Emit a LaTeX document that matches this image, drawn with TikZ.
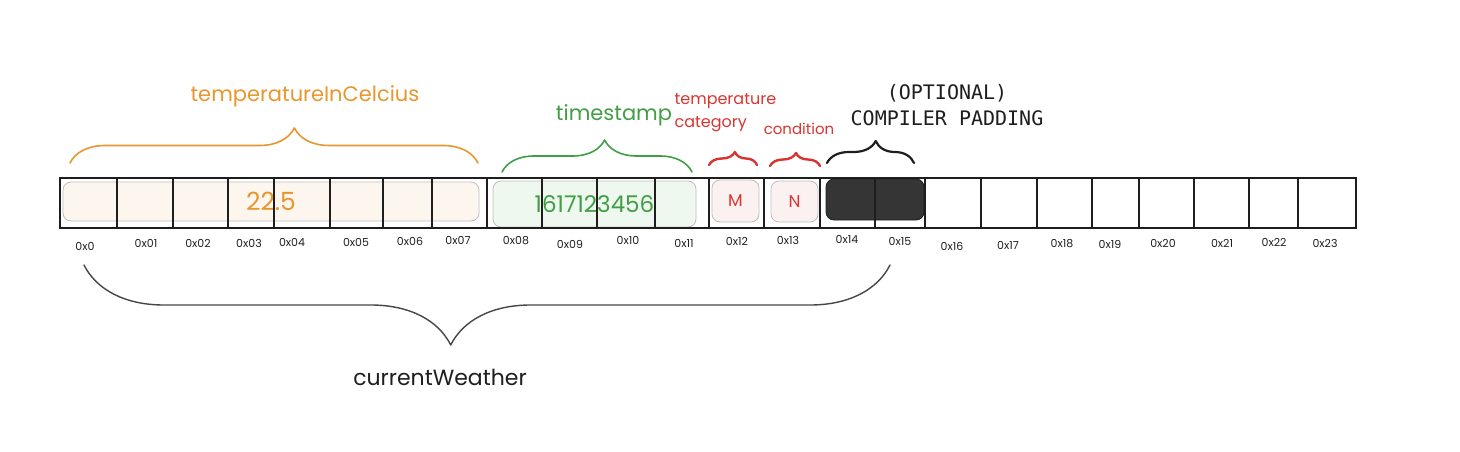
\documentclass[tikz,border=0pt]{standalone}
\usepackage{fontspec}
\setmainfont{Poppins}
\newfontfamily\monofont{DejaVu Sans Mono}
\usepackage{xcolor}
\usepackage{tikz}
\usetikzlibrary{positioning, calc, decorations.pathreplacing}
\definecolor{myorange}{RGB}{232,150,46}
\definecolor{mygreen}{RGB}{64,158,68}
\definecolor{myred}{RGB}{218,52,48}
\definecolor{mydark}{RGB}{30,30,30}
\definecolor{mygray}{RGB}{70,70,70}
\definecolor{bgorange}{RGB}{253,246,238}
\definecolor{bggreen}{RGB}{238,248,238}
\definecolor{bgred}{RGB}{251,241,241}
\definecolor{edgegray}{RGB}{190,190,190}
\tikzset{
  cell/.style={rectangle, draw=mydark, inner sep=0pt, minimum height=50pt,
    line width=1.2pt},
  field/.style={rectangle, draw=edgegray, rounded corners=8pt, inner sep=0pt,
    line width=0.8pt},
  addr/.style={font=\fontsize{11}{13}\selectfont, text=mydark},
  lbl/.style={font=\fontsize{21}{25}\selectfont},
  smalllbl/.style={font=\fontsize{16}{23}\selectfont, text=myred},
  bracket/.style={decorate, line width=1.6pt, line cap=round, line join=round},
}

\begin{document}
\begin{tikzpicture}[x=1pt, y=-1pt]
  \useasboundingbox (0,0) rectangle (1460,452);

  % Fields inside the memory strip
  \node[field, fill=bgorange, minimum width=416pt, minimum height=39pt,
    text=myorange, font=\fontsize{25}{28}\selectfont] (temp) at (271,201.5) {22.5};
  \node[field, fill=bggreen, minimum width=203pt, minimum height=46pt,
    text=mygreen, font=\fontsize{23}{26}\selectfont] (stamp) at (594.5,204) {1617123456};
  \node[field, fill=bgred, minimum width=47pt, minimum height=42pt,
    text=myred, font=\fontsize{17}{20}\selectfont] (cat) at (735.5,201) {M};
  \node[field, fill=bgred, minimum width=47pt, minimum height=41pt,
    text=myred, font=\fontsize{17}{20}\selectfont] (cond) at (794.5,201.5) {N};
  \node[field, draw=mydark, fill=mydark!90, minimum width=98pt,
    minimum height=41pt] (pad) at (875,199.5) {};

  % Memory cells
  \foreach \l/\r [count=\i from 0] in {60/117, 117/173, 173/228, 228/274,
      274/330, 330/383, 383/432, 432/487, 487/542, 542/597, 597/655, 655/709,
      709/764, 764/820, 820/875, 875/925, 925/981, 981/1037, 1037/1092,
      1092/1139, 1139/1194, 1194/1249, 1249/1298, 1298/1356}
    \node[cell, minimum width=\r-\l] (c\i) at ({(\l+\r)/2},203) {};

  % Addresses
  \foreach \x/\y/\t [count=\i from 0] in {85/246/0x0, 146/243/0x01,
      198/243/0x02, 249/243/0x03, 292/242/0x04, 356/242/0x05, 410/241/0x06,
      458/240/0x07, 516/241/0x08, 570/244/0x09, 628/240/0x10, 684/243/0x11,
      737/241/0x12, 788/240/0x13, 847/239/0x14, 900/241/0x15, 952/246/0x16,
      1008/245/0x17, 1062/244/0x18, 1110/244/0x19, 1163/243/0x20,
      1222/243/0x21, 1274/242/0x22, 1325/243/0x23}
    \node[addr] (a\i) at (\x,\y) {\t};

  % Braces above
  \coordinate (templ) at (70,163);
  \coordinate (tempr) at (478,163);
  \coordinate (stampl) at (502,172);
  \coordinate (stampr) at (692,172);
  \coordinate (catl) at (709,165);
  \coordinate (catr) at (757,165);
  \coordinate (condl) at (770,166);
  \coordinate (condr) at (820,166);
  \coordinate (padl) at (827,163);
  \coordinate (padr) at (914,163);
  \draw[bracket, myorange, decoration={brace, amplitude=35pt, aspect=0.55}]
    (templ) -- (tempr);
  \draw[bracket, mygreen, decoration={brace, amplitude=32pt, aspect=0.54}]
    (stampl) -- (stampr);
  \draw[bracket, myred, line width=2.4pt,
    decoration={brace, amplitude=13pt, aspect=0.54}] (catl) -- (catr);
  \draw[bracket, myred, line width=2.4pt,
    decoration={brace, amplitude=13pt, aspect=0.52}] (condl) -- (condr);
  \draw[bracket, mydark, line width=2.2pt,
    decoration={brace, amplitude=22pt, aspect=0.56}] (padl) -- (padr);

  \node[lbl, text=myorange] (templbl) at (305,96) {temperatureInCelcius};
  \node[lbl, text=mygreen] (stamplbl) at (614,115) {timestamp};
  \node[smalllbl, anchor=west, align=left] (catlbl) at (671,113)
    {temperature\\category};
  \node[smalllbl, font=\fontsize{15}{18}\selectfont] (condlbl) at (799,129)
    {condition};
  \node[font=\monofont\fontsize{20}{26}\selectfont, text=mydark, align=center]
    (padlbl) at (947,105) {(OPTIONAL)\\COMPILER PADDING};

  % Brace below the whole struct
  \coordinate (structr) at (890,265);
  \coordinate (structl) at (84,265);
  \draw[bracket, mygray, line width=1.4pt,
    decoration={brace, amplitude=80pt, aspect=0.545}] (structr) -- (structl);
  \node[font=\fontsize{22}{26}\selectfont, text=mydark] (structlbl) at (440,377)
    {currentWeather};
\end{tikzpicture}
\end{document}
